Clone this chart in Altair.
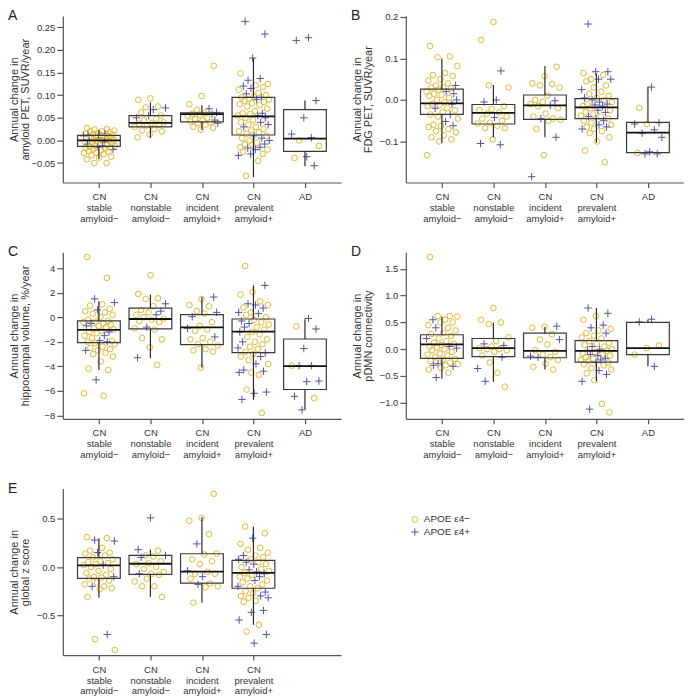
import altair as alt
import pandas as pd

FONT = "Liberation Sans"
YEL = "#E2B830"
BLU = "#5054A4"
PLUS = "M-1,0L1,0M0,-1L0,1"

CATS = ["CN|stable|amyloid−", "CN|nonstable|amyloid−", "CN|incident|amyloid+",
        "CN|prevalent|amyloid+", "AD"]
GENO = ["APOE ε4−", "APOE ε4+"]

# ---------------- Panel A: amyloid PET ----------------
A_neg = [
    [0.027, 0.025, 0.024, 0.022, 0.020, 0.020, 0.018, 0.017, 0.015, 0.014, 0.013, 0.012, 0.010, 0.010,
     0.008, 0.007, 0.005, 0.004, 0.003, 0.002, 0.001, 0.000, -0.001, -0.002, -0.003, -0.005, -0.006,
     -0.008, -0.010, -0.011, -0.012, -0.014, -0.015, -0.017, -0.018, -0.020, -0.022, -0.023, -0.025,
     -0.027, -0.028, -0.030, -0.033, -0.036, -0.038, -0.042, -0.050, -0.050],
    [0.093, 0.090, 0.075, 0.073, 0.062, 0.055, 0.048, 0.045, 0.040, 0.038, 0.037, 0.035, 0.033, 0.030,
     0.025, 0.022, 0.020, 0.013, 0.007],
    [0.165, 0.098, 0.080, 0.068, 0.060, 0.059, 0.057, 0.055, 0.050, 0.047, 0.044, 0.042, 0.040, 0.038,
     0.035, 0.030, 0.028, 0.024],
    [0.148, 0.125, 0.122, 0.118, 0.112, 0.105, 0.100, 0.097, 0.095, 0.092, 0.090, 0.088, 0.085, 0.082,
     0.080, 0.078, 0.075, 0.070, 0.065, 0.060, 0.058, 0.055, 0.050, 0.045, 0.040, 0.035, 0.030, 0.025,
     0.022, 0.020, 0.018, 0.015, 0.010, 0.005, 0.000, -0.005, -0.008, -0.010, -0.015, -0.020, -0.025,
     -0.030, -0.045, -0.078],
    [0.000, -0.012, -0.039],
]
A_pos = [
    [0.015, 0.012, 0.010, 0.005, 0.000, -0.003, -0.008, -0.012, -0.015, -0.020],
    [0.072, 0.068, 0.055, 0.050],
    [0.070, 0.062, 0.058, 0.045, 0.038],
    [0.263, 0.235, 0.182, 0.137, 0.133, 0.120, 0.115, 0.103, 0.095, 0.090, 0.060, 0.055, 0.050, 0.040,
     0.035, 0.030, 0.010, 0.005, 0.000, -0.008, -0.015, -0.017, -0.020, -0.030, -0.033],
    [0.227, 0.221, 0.088, 0.050, 0.014, 0.006, -0.036, -0.056],
]
A_q1 = [-0.013, 0.030, 0.041, 0.012, -0.024]
A_med = [0.000, 0.039, 0.058, 0.053, 0.004]
A_q3 = [0.011, 0.055, 0.061, 0.095, 0.068]
A_lo = [-0.041, 0.006, 0.023, -0.081, -0.057]
A_hi = [0.023, 0.084, 0.078, 0.182, 0.088]

# ---------------- Panel B: FDG PET ----------------
B_neg = [
    [0.130, 0.105, 0.103, 0.082, 0.065, 0.060, 0.058, 0.050, 0.047, 0.040, 0.035, 0.030, 0.030, 0.028,
     0.025, 0.020, 0.015, 0.012, 0.010, 0.005, 0.000, -0.005, -0.010, -0.012, -0.015, -0.020, -0.025,
     -0.030, -0.035, -0.040, -0.045, -0.060, -0.063, -0.065, -0.070, -0.075, -0.078, -0.085, -0.090,
     -0.095, -0.100, -0.133],
    [0.188, 0.145, 0.035, 0.030, -0.015, -0.022, -0.025, -0.030, -0.033, -0.040, -0.045, -0.050, -0.055,
     -0.057, -0.062, -0.068, -0.068, -0.095],
    [0.080, 0.057, 0.040, 0.038, 0.035, 0.030, 0.010, 0.000, -0.005, -0.010, -0.015, -0.020, -0.033,
     -0.040, -0.045, -0.048, -0.050, -0.070, -0.133],
    [0.065, 0.060, 0.050, 0.045, 0.035, 0.030, 0.020, 0.015, 0.010, 0.005, 0.000, -0.005, -0.010, -0.015,
     -0.020, -0.025, -0.030, -0.035, -0.038, -0.040, -0.045, -0.050, -0.055, -0.060, -0.065, -0.070,
     -0.075, -0.080, -0.090, -0.100, -0.122, -0.150],
    [-0.019, -0.058, -0.128],
]
B_pos = [
    [0.035, 0.020, 0.015, 0.000, -0.010, -0.020, -0.035, -0.052, -0.062],
    [0.070, 0.000, -0.005, -0.042, -0.105, -0.108],
    [-0.002, -0.013, -0.045, -0.090, -0.185],
    [0.183, 0.068, 0.068, 0.050, 0.050, 0.025, 0.005, 0.000, -0.005, -0.010, -0.012, -0.015, -0.025,
     -0.030, -0.040, -0.045, -0.050, -0.060, -0.065, -0.070],
    [0.031, -0.055, -0.058, -0.072, -0.080, -0.090, -0.125, -0.130, -0.130],
]
B_q1 = [-0.035, -0.058, -0.047, -0.045, -0.127]
B_med = [-0.008, -0.031, -0.013, -0.018, -0.079]
B_q3 = [0.026, -0.011, 0.012, 0.003, -0.054]
B_lo = [-0.103, -0.090, -0.090, -0.103, -0.127]
B_hi = [0.100, 0.036, 0.082, 0.064, 0.032]

# ---------------- Panel C: hippocampal volume ----------------
C_neg = [
    [4.92, 3.21, 1.05, 0.95, 0.70, 0.50, 0.40, 0.30, 0.20, 0.00, -0.20, -0.30, -0.35, -0.40, -0.50, -0.60,
     -0.70, -0.80, -0.90, -1.00, -1.10, -1.20, -1.30, -1.50, -1.70, -1.90, -2.00, -2.10, -2.20, -2.40,
     -2.50, -2.60, -2.70, -2.90, -3.00, -3.20, -3.60, -4.20, -4.30, -6.20, -6.40],
    [3.43, 1.90, 1.55, 1.50, 0.90, 0.60, 0.40, 0.20, 0.00, -0.10, -0.20, -0.30, -0.40, -0.90, -1.00,
     -1.70, -1.80, -2.45, -3.90],
    [1.50, 1.00, 0.90, 0.50, 0.30, -0.40, -0.70, -1.00, -1.10, -1.70, -1.80, -2.00, -2.20, -2.30, -2.60,
     -2.70, -2.80, -4.10],
    [4.19, 2.05, 1.85, 1.30, 1.00, 0.80, 0.40, 0.20, 0.00, -0.20, -0.40, -0.60, -0.80, -1.00, -1.20,
     -1.40, -1.60, -1.80, -2.00, -2.20, -2.40, -2.60, -2.80, -3.00, -3.20, -3.50, -3.80, -4.50, -4.70,
     -5.90, -7.80],
    [-0.75, -3.95, -6.60],
]
C_pos = [
    [1.50, 1.20, 0.60, -0.50, -0.70, -1.20, -1.50, -1.90, -2.00, -2.70, -5.10],
    [1.10, 0.50, 0.20, -0.80, -3.30],
    [1.65, 0.40, 0.05, -0.90, -1.60],
    [2.60, 1.10, 1.00, 0.75, 0.40, 0.30, -0.30, -0.50, -0.80, -1.20, -2.00, -2.50, -2.90, -3.20, -3.80,
     -4.30, -4.40, -4.50, -6.10, -6.20, -6.70],
    [-0.10, -0.95, -2.55, -3.95, -3.95, -5.20, -5.25, -6.45, -7.55],
]
C_q1 = [-2.07, -0.95, -2.23, -2.88, -5.89]
C_med = [-1.03, -0.14, -0.82, -1.17, -3.99]
C_q3 = [-0.30, 0.75, 0.21, -0.14, -1.77]
C_lo = [-4.29, -3.34, -4.10, -6.73, -7.51]
C_hi = [1.30, 1.86, 1.65, 2.62, -0.17]

# ---------------- Panel D: pDMN connectivity ----------------
D_neg = [
    [1.72, 0.62, 0.62, 0.61, 0.55, 0.50, 0.50, 0.45, 0.40, 0.35, 0.30, 0.28, 0.25, 0.20, 0.15, 0.12, 0.10,
     0.08, 0.05, 0.03, 0.00, -0.02, -0.05, -0.08, -0.10, -0.12, -0.15, -0.18, -0.20, -0.22, -0.25, -0.28,
     -0.30, -0.35, -0.38, -0.44],
    [0.77, 0.55, 0.50, 0.47, 0.22, 0.15, 0.05, 0.02, 0.00, 0.00, -0.02, -0.05, -0.12, -0.25, -0.44, -0.70],
    [0.42, 0.40, 0.28, 0.18, 0.09, -0.02, -0.05, -0.10, -0.15, -0.20, -0.27, -0.33, -0.38],
    [0.62, 0.55, 0.38, 0.35, 0.30, 0.25, 0.22, 0.20, 0.15, 0.12, 0.10, 0.08, 0.05, 0.00, -0.03, -0.05,
     -0.08, -0.10, -0.12, -0.15, -0.18, -0.20, -0.22, -0.25, -0.28, -0.30, -0.35, -0.38, -0.45, -0.58,
     -1.02, -1.18],
    [0.07, 0.02, -0.10],
]
D_pos = [
    [0.55, 0.40, 0.20, 0.05, 0.02, -0.27, -0.30, -0.32, -0.53],
    [0.10, 0.07, -0.15, -0.36, -0.60],
    [0.43, 0.18, -0.13, -0.15],
    [0.77, 0.67, 0.45, 0.40, 0.30, 0.05, 0.00, -0.02, -0.10, -0.12, -0.17, -0.20, -0.25, -0.40, -0.47,
     -0.60, -1.12],
    [0.56, 0.51, -0.32],
]
D_q1 = [-0.17, -0.14, -0.16, -0.24, -0.10]
D_med = [0.09, 0.02, -0.03, -0.03, 0.02]
D_q3 = [0.27, 0.20, 0.30, 0.16, 0.50]
D_lo = [-0.55, -0.61, -0.38, -0.60, -0.32]
D_hi = [0.61, 0.50, 0.42, 0.77, 0.55]

# ---------------- Panel E: global z score ----------------
E_neg = [
    [0.31, 0.30, 0.20, 0.17, 0.15, 0.14, 0.12, 0.10, 0.08, 0.06, 0.05, 0.04, 0.03, 0.02, 0.00, -0.02,
     -0.04, -0.06, -0.08, -0.10, -0.11, -0.12, -0.14, -0.16, -0.18, -0.20, -0.22, -0.23, -0.31, -0.75,
     -0.86],
    [0.17, 0.12, 0.11, 0.06, 0.04, 0.03, 0.00, -0.02, -0.05, -0.07, -0.08, -0.12, -0.15, -0.20, -0.20,
     -0.31],
    [0.76, 0.51, 0.48, 0.34, 0.14, 0.13, 0.08, 0.06, 0.03, -0.05, -0.07, -0.07, -0.12, -0.17, -0.20,
     -0.21, -0.37],
    [0.42, 0.35, 0.24, 0.20, 0.18, 0.15, 0.12, 0.10, 0.08, 0.05, 0.03, 0.00, -0.02, -0.04, -0.06, -0.08,
     -0.10, -0.12, -0.14, -0.16, -0.18, -0.20, -0.22, -0.25, -0.27, -0.30, -0.32, -0.35, -0.36, -0.60,
     -0.67],
]
E_pos = [
    [0.28, 0.27, 0.15, 0.02, -0.10, -0.20, -0.70],
    [0.51, 0.18, 0.12, 0.10, -0.07],
    [0.24, -0.04, -0.10, -0.18],
    [0.30, 0.12, 0.08, 0.05, 0.03, -0.03, -0.05, -0.07, -0.10, -0.14, -0.20, -0.26, -0.30, -0.32, -0.45,
     -0.47, -0.55, -0.70, -0.79],
]
E_q1 = [-0.117, -0.076, -0.166, -0.220]
E_med = [0.017, 0.034, -0.048, -0.060]
E_q3 = [0.097, 0.120, 0.138, 0.070]
E_lo = [-0.32, -0.31, -0.37, -0.60]
E_hi = [0.30, 0.18, 0.52, 0.42]

PLOT_W = 279
PLOT_H = 167
LEFT_EXT = 55


def build_points(neg, pos):
    rows = []
    for g in range(len(neg)):
        items = [(v, GENO[0]) for v in neg[g]] + [(v, GENO[1]) for v in pos[g]]
        items.sort(key=lambda t: -t[0])
        for i, (v, geno) in enumerate(items):
            frac = (i * 0.6180339887 + 0.37 * g + 0.13) % 1.0
            rows.append({"pos": g + 1 + (frac - 0.5) * 0.62, "value": v, "apoe": geno})
    return pd.DataFrame(rows)


def build_boxes(q1, med, q3, lo, hi):
    idx = [g + 1 for g in range(len(q1))]
    return pd.DataFrame({
        "pos": idx,
        "left": [i - 0.415 for i in idx],
        "right": [i + 0.415 for i in idx],
        "q1": q1, "med": med, "q3": q3, "lo": lo, "hi": hi,
    })


LABEL_EXPR = "split([''," + ",".join("'" + c + "'" for c in CATS) + "][datum.value], '|')"


def panel(letter, ytitle, neg, pos, q1, med, q3, lo, hi, domain, ticks, fmt, legend=False):
    n = len(q1)
    pdf = build_points(neg, pos)
    bdf = build_boxes(q1, med, q3, lo, hi)
    xs = alt.Scale(domain=[0.3, 5.7], nice=False, zero=False)
    ys = alt.Scale(domain=domain, nice=False, zero=False)
    xaxis = alt.Axis(values=list(range(1, n + 1)), labelExpr=LABEL_EXPR, title=None, grid=False)
    yaxis = alt.Axis(values=ticks, format=fmt, title=ytitle, grid=False)
    if legend:
        lg = alt.Legend(orient="none", legendX=348, legendY=26, title=None, padding=0,
                        labelFontSize=10, labelColor="#333", labelFont=FONT, rowPadding=1.5,
                        symbolStrokeWidth=1, labelOffset=4)
    else:
        lg = None
    pts = alt.Chart(pdf).mark_point(filled=False, strokeWidth=1, opacity=1).encode(
        x=alt.X("pos:Q", scale=xs, axis=xaxis),
        y=alt.Y("value:Q", scale=ys, axis=yaxis),
        color=alt.Color("apoe:N", scale=alt.Scale(domain=GENO, range=[YEL, BLU]), legend=lg),
        shape=alt.Shape("apoe:N", scale=alt.Scale(domain=GENO, range=["circle", PLUS]), legend=lg),
        size=alt.Size("apoe:N", scale=alt.Scale(domain=GENO, range=[32, 56]), legend=lg),
    )
    boxes = alt.Chart(bdf).mark_rect(fillOpacity=0, stroke="#3a3a3a", strokeWidth=1.2).encode(
        x=alt.X("left:Q", scale=xs, axis=xaxis), x2="right:Q",
        y=alt.Y("q1:Q", scale=ys, axis=yaxis), y2="q3:Q")
    wlo = alt.Chart(bdf).mark_rule(color="#2a2a2a", strokeWidth=1.2).encode(
        x=alt.X("pos:Q", scale=xs, axis=xaxis),
        y=alt.Y("lo:Q", scale=ys, axis=yaxis), y2="q1:Q")
    whi = alt.Chart(bdf).mark_rule(color="#2a2a2a", strokeWidth=1.2).encode(
        x=alt.X("pos:Q", scale=xs, axis=xaxis),
        y=alt.Y("q3:Q", scale=ys, axis=yaxis), y2="hi:Q")
    mline = alt.Chart(bdf).mark_rule(color="#111", strokeWidth=1.8).encode(
        x=alt.X("left:Q", scale=xs, axis=xaxis), x2="right:Q",
        y=alt.Y("med:Q", scale=ys, axis=yaxis))
    tag = alt.Chart(pd.DataFrame({"t": [letter]})).mark_text(
        align="left", baseline="top", fontSize=14, font=FONT, color="#222").encode(
        x=alt.value(-LEFT_EXT), y=alt.value(-7), text="t:N")
    return alt.layer(pts, boxes, wlo, whi, mline, tag).properties(width=PLOT_W, height=PLOT_H)


pA = panel("A", ["Annual change in", "amyloid PET, SUVR/year"], A_neg, A_pos,
           A_q1, A_med, A_q3, A_lo, A_hi, [-0.093, 0.275],
           [-0.05, 0.0, 0.05, 0.10, 0.15, 0.20, 0.25], ".2f")
pB = panel("B", ["Annual change in", "FDG PET, SUVR/year"], B_neg, B_pos,
           B_q1, B_med, B_q3, B_lo, B_hi, [-0.199, 0.2024], [-0.1, 0.0, 0.1, 0.2], ".1f")
pC = panel("C", ["Annual change in", "hippocampal volume, %/year"], C_neg, C_pos,
           C_q1, C_med, C_q3, C_lo, C_hi, [-8.28, 5.3], [-8, -6, -4, -2, 0, 2, 4], "d")
pD = panel("D", ["Annual change in", "pDMN connectivity"], D_neg, D_pos,
           D_q1, D_med, D_q3, D_lo, D_hi, [-1.30, 1.81], [-1.0, -0.5, 0.0, 0.5, 1.0, 1.5], ".1f")
pE = panel("E", ["Annual change in", "global z score"], E_neg, E_pos,
           E_q1, E_med, E_q3, E_lo, E_hi, [-0.914, 0.814], [-0.5, 0.0, 0.5], ".1f", legend=True)

RES = dict(color="independent", shape="independent", size="independent")
row1 = alt.hconcat(pA, pB, spacing=10).resolve_scale(**RES)
row2 = alt.hconcat(pC, pD, spacing=10).resolve_scale(**RES)
chart = alt.vconcat(row1, row2, pE, spacing=22, padding=0).resolve_scale(**RES)

chart = chart.configure_view(stroke=None).configure_axis(
    domainColor="#555", tickColor="#555", labelColor="#333", titleColor="#333",
    labelFont=FONT, titleFont=FONT, labelFontSize=9.5, titleFontSize=11,
    titleFontWeight="normal", grid=False, domainWidth=1.2, tickWidth=1.2,
).configure_axisX(
    tickSize=5, labelPadding=4, labelLineHeight=11, labelFlush=False,
).configure_axisY(
    tickSize=6, labelPadding=2, minExtent=29, maxExtent=29, titlePadding=3, titleLineHeight=11.5,
)

chart.save("out.html", embed_options={"renderer": "svg", "actions": False})
